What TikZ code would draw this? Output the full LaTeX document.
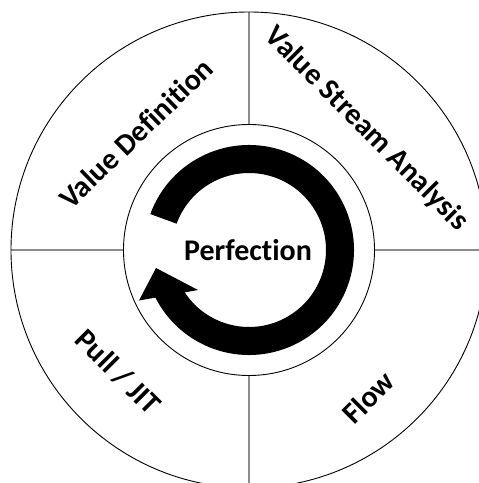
\documentclass[tikz,border=0pt]{standalone}
\usepackage{fontspec}
\setmainfont{Carlito}[Ligatures={NoCommon}]
\begin{document}
\begin{tikzpicture}[x=1pt,y=1pt,
  ringline/.style={draw=black,line width=0.9pt},
  divider/.style={draw=black!45,line width=1.4pt},
  label/.style={font=\bfseries\fontsize{30}{34}\selectfont,inner sep=0pt}]
\useasboundingbox (-249,-233) rectangle (230,250);
\clip (-249,-233) rectangle (230,250);
\fill[white] (-249,-233) rectangle (230,250);
% named points
\coordinate (c) at (0,0);
\coordinate (otop) at (0,238);
\coordinate (itop) at (0,125.5);
\coordinate (obot) at (0,-240);
\coordinate (ibot) at (0,-125.5);
\coordinate (oleft) at (-238,0);
\coordinate (ileft) at (-125.5,0);
\coordinate (oright) at (240,0);
\coordinate (iright) at (125.5,0);
% dividers
\draw[divider] (otop) -- (itop);
\draw[divider] (ibot) -- (obot);
\draw[divider] (oleft) -- (ileft);
\draw[divider] (iright) -- (oright);
% circles
\draw[ringline] (c) circle[radius=238];
\draw[ringline] (c) circle[radius=125.5];
% circular arrow
\fill[black] (160:105) arc[start angle=160, end angle=-153.04, radius=105]
  -- (-110,-50.5) -- (-93,-18) -- (-51,-40)
  -- (-146.6:77) arc[start angle=-146.6, end angle=160, radius=77] -- cycle;
% labels
\node[label] (perf) at (-1,-0.5) {Perfection};
\node[label,rotate=44] (vd) at (-113,116.7) {Value Definition};
\node[label,rotate=-45] (vsa) at (117.5,121) {Value Stream Analysis};
\node[label,rotate=-45] (pull) at (-131,-122) {Pull / JIT};
\node[label,rotate=45] (flow) at (119,-147.5) {Flow};
\end{tikzpicture}
\end{document}
